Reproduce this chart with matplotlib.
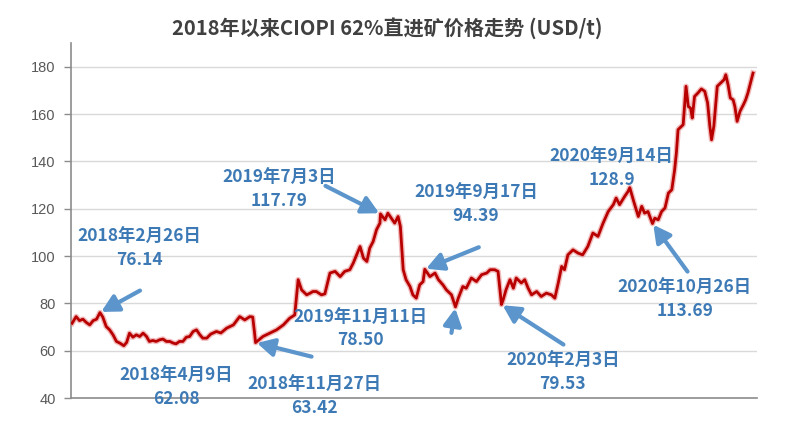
import matplotlib
matplotlib.use("Agg")
import matplotlib.pyplot as plt
import matplotlib.patheffects as pe
import numpy as np

plt.rcParams['font.family'] = ['Noto Sans CJK SC', 'DejaVu Sans']

# days since 2018-01-01
days = [7, 14, 20, 26, 32, 38, 44, 50, 56, 61, 67, 73, 79, 85, 91, 98, 103, 108, 114, 120,
        126, 132, 138, 143, 149, 155, 161, 167, 173, 179, 185, 190, 196, 202, 208, 214, 220, 226, 232, 237,
        244, 251, 261, 269, 279, 291, 302, 311, 320, 325, 328, 330, 343, 355, 367, 379, 390, 399, 405, 411,
        420, 426, 431, 437, 446, 452, 461, 470, 479, 487, 496, 502, 508, 514, 520, 526, 531, 537, 543, 549,
        550, 558, 563, 569, 575, 581, 585, 590, 595, 602, 607, 613, 619, 625, 628, 637, 646, 652, 660, 666,
        675, 682, 687, 695, 701, 710, 719, 728, 737, 743, 751, 757, 763, 766, 771, 778, 784, 789, 798, 804,
        810, 816, 825, 833, 842, 851, 857, 863, 869, 874, 880, 889, 898, 906, 915, 924, 933, 942, 951, 960,
        965, 971, 980, 986, 989, 996, 1004, 1010, 1015, 1021, 1029, 1033, 1039, 1045, 1051, 1057, 1063, 1068, 1071, 1074,
        1083, 1088, 1092, 1096, 1099, 1103, 1109, 1115, 1121, 1126, 1130, 1133, 1137, 1143, 1149, 1155, 1158, 1162, 1166, 1171,
        1174, 1178, 1183, 1189, 1193, 1197, 1206]
price = [71.6, 74.4, 72.7, 73.3, 71.9, 70.9, 72.7, 73.3, 76.1, 74.2, 70.2, 68.8, 66.7, 63.9, 63.2, 62.1, 63.5, 67.4, 65.7, 66.7,
         66.0, 67.4, 66.0, 63.9, 64.3, 63.9, 64.6, 64.9, 63.9, 63.9, 63.2, 62.9, 63.9, 63.9, 65.7, 66.0, 68.1, 68.8, 66.7, 65.3,
         65.3, 67.0, 68.1, 67.5, 69.5, 70.9, 74.4, 73.0, 74.4, 74.2, 68.0, 63.4, 66.0, 67.4, 68.8, 70.9, 73.7, 75.1, 90.0, 85.7,
         83.6, 84.3, 85.0, 85.0, 83.6, 84.0, 92.8, 93.5, 91.3, 93.5, 94.2, 97.0, 100.5, 104.0, 99.1, 97.7, 103.3, 106.1, 111.1, 113.9,
         117.8, 115.3, 118.1, 116.0, 113.9, 116.7, 112.5, 94.2, 90.0, 87.1, 83.6, 82.2, 87.8, 89.2, 94.4, 91.3, 92.8, 90.0, 87.8, 85.7,
         83.6, 78.5, 82.2, 87.1, 86.4, 90.7, 89.2, 92.1, 92.8, 94.2, 94.2, 93.5, 79.5, 81.5, 85.7, 90.0, 86.4, 90.7, 88.6, 90.0,
         86.4, 83.6, 85.0, 82.9, 84.3, 83.6, 82.2, 88.6, 95.6, 94.2, 100.5, 102.6, 101.2, 100.5, 104.0, 109.7, 108.3, 113.9, 118.8, 121.7,
         124.5, 121.7, 125.2, 127.3, 128.9, 123.0, 116.7, 121.0, 118.1, 118.8, 113.7, 116.0, 115.3, 118.8, 120.3, 126.6, 128.0, 136.5, 143.5, 153.4,
         155.5, 171.7, 163.2, 162.5, 158.3, 167.4, 168.9, 170.6, 169.6, 164.7, 154.8, 149.1, 154.8, 171.7, 173.1, 174.5, 176.6, 172.4, 166.8, 166.0,
         163.2, 156.9, 161.1, 163.9, 166.0, 168.9, 177.3]

yticks = [40, 60, 80, 100, 120, 140, 160, 180]
title = "2018年以来CIOPI 62%直进矿价格走势 (USD/t)"

# annotations: label, text center (day, value), arrow target (day, value) or None, arrow tail offset (px)
ann_labels = ["2018年2月26日\n76.14", "2018年4月9日\n62.08", "2018年11月27日\n63.42",
              "2019年7月3日\n117.79", "2019年9月17日\n94.39", "2019年11月11日\n78.50",
              "2020年2月3日\n79.53", "2020年9月14日\n128.9", "2020年10月26日\n113.69"]
ann_text_day = [126, 190, 434, 371, 718, 515, 871, 957, 1086]
ann_text_val = [103.3, 44.5, 40.7, 128.0, 121.9, 69.2, 50.8, 137.1, 81.5]
ann_pt_day = [56, None, 330, 550, 628, 682, 763, None, 1029]
ann_pt_val = [76.1, None, 63.4, 117.8, 94.4, 78.5, 79.5, None, 113.7]
ann_tail = [(40, 22), None, (56, -14), (-55, 28), (54, 22), (-4, -26), (62, -40), None, (35, -48)]

fig = plt.figure(figsize=(8, 4.25), dpi=100)
ax = fig.add_axes([0.08875, 0.0635, 0.8575, 0.8353])

ax.set_ylim(40, 190)
ax.set_xlim(5, 1213)
ax.set_yticks(yticks)
ax.set_xticks([])
ax.grid(axis='y', color='#d9d9d9', lw=1)
ax.set_axisbelow(True)
for s in ['top', 'right']:
    ax.spines[s].set_visible(False)
for s in ['left', 'bottom']:
    ax.spines[s].set_color('#8c8c8c')
    ax.spines[s].set_linewidth(1.2)
ax.tick_params(axis='y', colors='#8c8c8c', length=5, width=1, labelcolor='#595959',
               labelsize=10.5, pad=6)
for lab in ax.get_yticklabels():
    lab.set_fontfamily(['Liberation Sans', 'DejaVu Sans'])

ax.plot(days, price, color='#b80000', lw=2.0, solid_joinstyle='round',
        path_effects=[pe.Stroke(linewidth=4.0, foreground='#e46a6a', alpha=0.45), pe.Normal()],
        zorder=3)

text_color = '#3d7ab5'
arrow_color = '#5b95cc'
for i, lab in enumerate(ann_labels):
    ax.text(ann_text_day[i], ann_text_val[i], lab, ha='center', va='center',
            color=text_color, fontsize=12.5, fontweight='bold', linespacing=1.35,
            clip_on=False, zorder=5)
    if ann_pt_day[i] is not None:
        ax.annotate('', xy=(ann_pt_day[i], ann_pt_val[i]), xytext=ann_tail[i],
                    textcoords='offset pixels',
                    arrowprops=dict(arrowstyle='-|>,head_length=0.85,head_width=0.45',
                                    mutation_scale=12, lw=3.0, color=arrow_color,
                                    shrinkA=0, shrinkB=1),
                    zorder=6, annotation_clip=False)

fig.text(0.484, 0.935, title, ha='center', va='center', fontsize=14.5,
         fontweight='bold', color='#404040')

fig.savefig('out.png', dpi=100, facecolor='white')
